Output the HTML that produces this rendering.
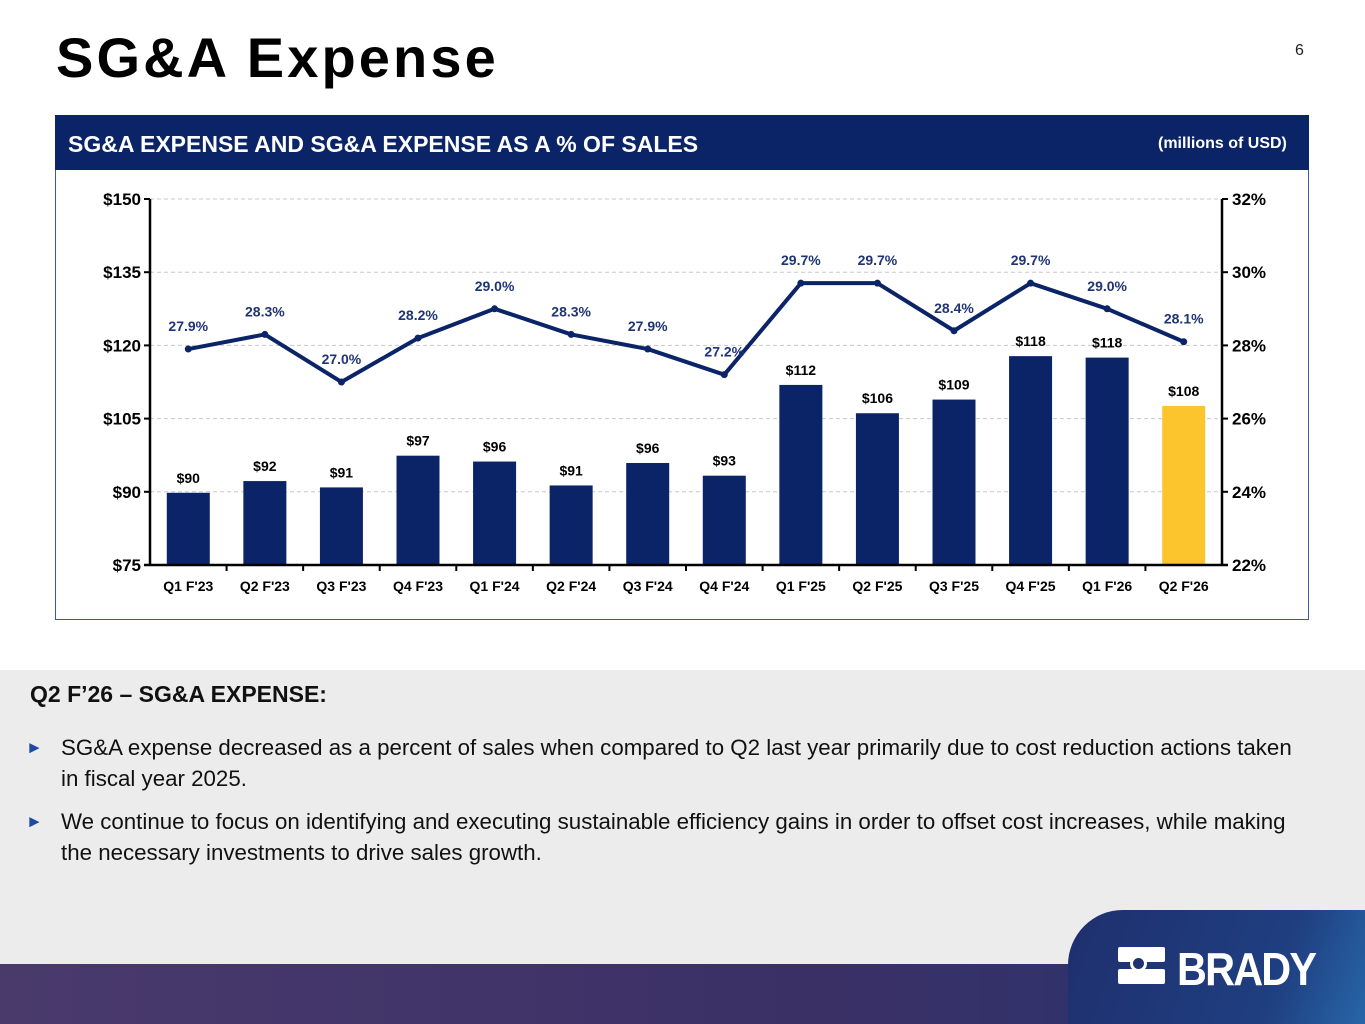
<!DOCTYPE html>
<html><head><meta charset="utf-8"><style>
body{margin:0;width:1365px;height:1024px;position:relative;overflow:hidden;background:#fff;font-family:"Liberation Sans",Arial,sans-serif}
.abs{position:absolute}
</style></head><body>
<div class="abs" style="left:56px;top:25px;font-size:56px;font-weight:bold;color:#000;letter-spacing:3.1px">SG&amp;A Expense</div>
<div class="abs" style="left:1295px;top:42px;font-size:16px;color:#222">6</div>
<div class="abs" style="left:55px;top:115px;width:1254px;height:505px;border:1px solid #3a5aa8;box-sizing:border-box"></div>
<div class="abs" style="left:55px;top:115px;width:1254px;height:55px;background:#0b2468"></div>
<div class="abs" style="left:68px;top:131px;font-size:23px;font-weight:bold;color:#fff">SG&amp;A EXPENSE AND SG&amp;A EXPENSE AS A % OF SALES</div>
<div class="abs" style="left:1158px;top:135px;font-size:16px;font-weight:bold;color:#fff">(millions of USD)</div>
<svg class="abs" style="left:0;top:0" width="1365" height="640" id="chart"></svg>
<div class="abs" style="left:0;top:670px;width:1365px;height:300px;background:#ececec"></div>
<div class="abs" style="left:30px;top:681px;font-size:23px;font-weight:bold;color:#111">Q2 F’26 – SG&amp;A EXPENSE:</div>
<div class="abs" style="left:26px;top:732px;width:1278px;font-size:22.3px;line-height:31px;color:#111"><span style="color:#1f4aa0;font-size:17px;position:absolute;left:0;top:0">►</span><div style="margin-left:35px">SG&amp;A expense decreased as a percent of sales when compared to Q2 last year primarily due to cost reduction actions taken in fiscal year 2025.</div></div>
<div class="abs" style="left:26px;top:806px;width:1278px;font-size:22.3px;line-height:31px;color:#111"><span style="color:#1f4aa0;font-size:17px;position:absolute;left:0;top:0">►</span><div style="margin-left:35px">We continue to focus on identifying and executing sustainable efficiency gains in order to offset cost increases, while making the necessary investments to drive sales growth.</div></div>
<div class="abs" style="left:0;top:964px;width:1365px;height:60px;background:linear-gradient(90deg,#4a3a6c,#3a3066 60%,#283470)"></div>
<div class="abs" style="left:1068px;top:910px;width:297px;height:114px;background:linear-gradient(110deg,#1f2f6e,#1f3f80 70%,#2766a8);border-top-left-radius:55px"></div>
<div class="abs" style="left:1118px;top:947px;width:50px;height:38px">
<div style="position:absolute;left:0;top:0;width:47px;height:15px;background:#fff;border-radius:2px"></div>
<div style="position:absolute;left:0;top:22px;width:47px;height:15px;background:#fff;border-radius:2px"></div>
<div style="position:absolute;left:12px;top:8px;width:17px;height:17px;border:3px solid #fff;border-radius:50%;background:#1f3270;box-sizing:border-box"></div>
</div>
<div class="abs" style="left:1177px;top:942px;font-size:46px;font-weight:bold;color:#fff;letter-spacing:-2px;transform:scaleX(0.9);transform-origin:left">BRADY</div>
<script>
const categories=["Q1 F'23","Q2 F'23","Q3 F'23","Q4 F'23","Q1 F'24","Q2 F'24","Q3 F'24","Q4 F'24","Q1 F'25","Q2 F'25","Q3 F'25","Q4 F'25","Q1 F'26","Q2 F'26"];
const expense=[89.8,92.2,90.9,97.4,96.2,91.3,95.9,93.3,111.9,106.1,108.9,117.8,117.5,107.6];
const expenseLabels=["$90","$92","$91","$97","$96","$91","$96","$93","$112","$106","$109","$118","$118","$108"];
const pct=[27.9,28.3,27.0,28.2,29.0,28.3,27.9,27.2,29.7,29.7,28.4,29.7,29.0,28.1];
const leftTicks=[75,90,105,120,135,150];
const rightTicks=[22,24,26,28,30,32];
const NS="http://www.w3.org/2000/svg";
const svg=document.getElementById('chart');
const X0=150,X1=1222,YT=199,YB=565;
const bw=(X1-X0)/categories.length;
const xC=i=>X0+bw*(i+0.5);
const yL=v=>YB-(v-75)/(150-75)*(YB-YT);
const yR=v=>YB-(v-22)/(32-22)*(YB-YT);
function mk(t,a,txt){const e=document.createElementNS(NS,t);for(const k in a)e.setAttribute(k,a[k]);if(txt!==undefined)e.textContent=txt;svg.appendChild(e);return e;}
leftTicks.forEach((t,i)=>{
 if(i>0){const g=mk('line',{x1:X0,x2:X1,y1:yL(t),y2:yL(t),stroke:'#c8c8c8','stroke-dasharray':'4,3'});
 
 }
 const l=mk('text',{x:X0-9,y:yL(t)+6,'text-anchor':'end','font-size':17,'font-weight':'bold',fill:'#000'},'$'+t);
 
 
 mk('line',{x1:X0-6,x2:X0,y1:yL(t),y2:yL(t),stroke:'#000','stroke-width':2});
});
rightTicks.forEach(t=>{
 const l=mk('text',{x:X1+10,y:yR(t)+6,'font-size':17,'font-weight':'bold',fill:'#000'},t+'%');
 
 
 mk('line',{x1:X1,x2:X1+6,y1:yR(t),y2:yR(t),stroke:'#000','stroke-width':2});
});
categories.forEach((c,i)=>{
 const v=expense[i];
 const b=mk('rect',{x:xC(i)-21.5,y:yL(v),width:43,height:YB-yL(v),fill:i===categories.length-1?'#fcc42d':'#0b2468'});
 
 
 const vl=mk('text',{x:xC(i),y:yL(v)-10,'text-anchor':'middle','font-size':14,'font-weight':'bold',fill:'#000'},expenseLabels[i]);
 
 
 const cl=mk('text',{x:xC(i),y:YB+26,'text-anchor':'middle','font-size':14,'font-weight':'bold',fill:'#000'},c);
 
 
 if(i>0)mk('line',{x1:X0+bw*i,x2:X0+bw*i,y1:YB,y2:YB+6,stroke:'#000','stroke-width':2});
});
mk('line',{x1:X0,x2:X0,y1:YT,y2:YB,stroke:'#000','stroke-width':2.5});
mk('line',{x1:X1,x2:X1,y1:YT,y2:YB,stroke:'#000','stroke-width':2.5});
mk('line',{x1:X0-6,x2:X1+6,y1:YB,y2:YB,stroke:'#000','stroke-width':2.5});
const line=mk('polyline',{points:pct.map((p,i)=>xC(i)+','+yR(p)).join(' '),fill:'none',stroke:'#0b2468','stroke-width':4,'stroke-linejoin':'round'});


pct.forEach((p,i)=>{
 const d=mk('circle',{cx:xC(i),cy:yR(p),r:3.5,fill:'#0b2468'});
 
 
 const t=mk('text',{x:xC(i),y:yR(p)-18,'text-anchor':'middle','font-size':14,'font-weight':'bold',fill:'#1f3475'},p.toFixed(1)+'%');
 
 
});
</script>
</body></html>
